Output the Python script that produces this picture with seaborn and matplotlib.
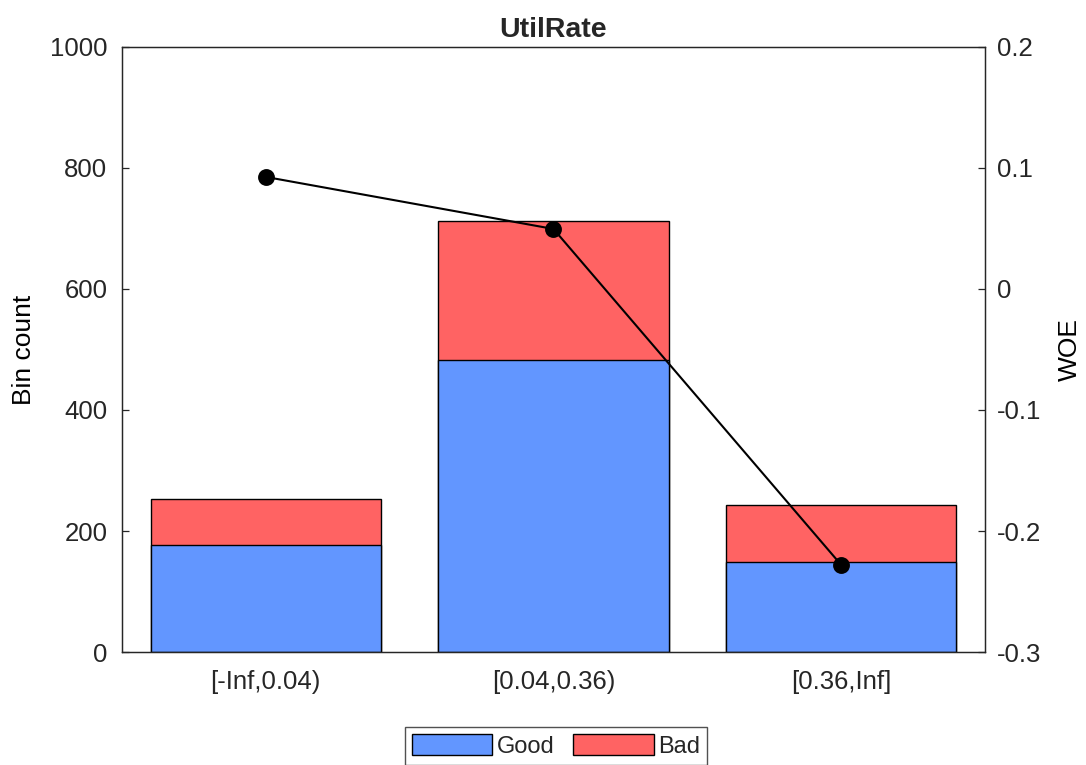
import numpy as np
import pandas as pd
import matplotlib
matplotlib.use('Agg')
import matplotlib.pyplot as plt
import seaborn as sns
from matplotlib.patches import Patch
from matplotlib.ticker import FuncFormatter

# Bin data
bins = ['[-Inf,0.04)', '[0.04,0.36)', '[0.36,Inf]']
good = [177, 483, 149]
bad = [76, 229, 94]
woe = [0.0926, 0.0496, -0.228]

good_color = '#6296FF'
bad_color = '#FF6363'
text_color = '#262626'

sns.set_style('white')
plt.rcParams['font.family'] = ['Liberation Sans', 'DejaVu Sans']

data = pd.DataFrame({'bin': bins, 'good': good, 'bad': bad, 'woe': woe})
data['total'] = data['good'] + data['bad']

fig = plt.figure(figsize=(10.86, 7.65), dpi=100)
ax = fig.add_axes([0.1123, 0.1477, 0.7947, 0.7909])

# Stacked bars: total (red) first, good (blue) drawn over it
sns.barplot(x='bin', y='total', data=data, color=bad_color, width=0.8,
            edgecolor='black', linewidth=1, saturation=1, ax=ax, order=bins)
sns.barplot(x='bin', y='good', data=data, color=good_color, width=0.8,
            edgecolor='black', linewidth=1, saturation=1, ax=ax, order=bins)

ax.set_ylim(0, 1000)
ax.set_yticks(np.arange(0, 1001, 200))
ax.set_xlabel('')
ax.set_ylabel('Bin count', fontsize=19, color='black', labelpad=10)
ax.set_title('UtilRate', fontsize=20.5, fontweight='bold', pad=7)

# WOE line on a second axis
ax2 = ax.twinx()
sns.pointplot(x='bin', y='woe', data=data, order=bins, color='black',
              markers='o', linestyles='-', markersize=11, linewidth=1.5,
              ax=ax2)
ax2.set_ylim(-0.3, 0.2)
ax2.set_yticks(np.round(np.arange(-0.3, 0.21, 0.1), 1))
ax2.yaxis.set_major_formatter(FuncFormatter(lambda v, p: f'{round(v, 1):g}'))
ax2.set_ylabel('WOE', fontsize=19, color='black', labelpad=12)
ax2.set_xlabel('')
ax.set_xlim(-0.5, 2.5)

for a in (ax, ax2):
    for s in a.spines.values():
        s.set_color(text_color)
        s.set_linewidth(0.9)
ax.tick_params(axis='both', direction='in', length=5, width=0.9,
               colors=text_color, labelsize=18.5, right=False, top=False)
ax.tick_params(axis='y', pad=10.5)
ax.tick_params(axis='x', pad=13)
ax2.tick_params(axis='y', direction='in', length=5, width=0.9,
                colors=text_color, labelsize=18.5, pad=8.5, left=False)

# Legend below the axes
handles = [Patch(facecolor=good_color, edgecolor='black', label='Good'),
           Patch(facecolor=bad_color, edgecolor='black', label='Bad')]
fig.legend(handles=handles, loc='upper center', bbox_to_anchor=(0.512, 0.0497),
           ncol=2, fontsize=17, frameon=True, fancybox=False,
           edgecolor=text_color, handlelength=3.4, handleheight=1.0,
           handletextpad=0.2, columnspacing=0.8, borderpad=0.3,
           borderaxespad=0)

fig.savefig('out.png', dpi=100)
plt.close()
